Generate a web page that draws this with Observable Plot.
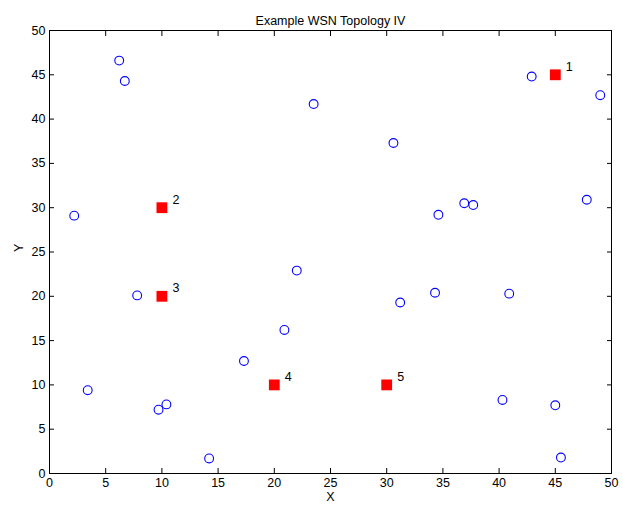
<!DOCTYPE html>
<html>
<head>
<meta charset="utf-8">
<script src="https://cdn.jsdelivr.net/npm/d3@7"></script>
<script src="https://cdn.jsdelivr.net/npm/@observablehq/plot@0.6"></script>
<style>
  html, body { margin: 0; padding: 0; background: #fff; }
  svg { display: block; }
</style>
</head>
<body>
<div id="chart"></div>
<script>
// Sensor nodes (blue circles)
const sensorX = [6.2, 6.7, 2.2, 23.5, 30.6, 34.6, 36.9, 37.7, 42.9, 49.0, 47.8, 7.8, 22.0, 20.9, 17.3, 3.4, 9.7, 10.4, 14.2, 31.2, 34.3, 40.9, 40.3, 45.0, 45.5];
const sensorY = [46.6, 44.3, 29.1, 41.7, 37.3, 29.2, 30.5, 30.3, 44.8, 42.7, 30.9, 20.1, 22.9, 16.2, 12.7, 9.4, 7.2, 7.8, 1.7, 19.3, 20.4, 20.3, 8.3, 7.7, 1.8];
// Anchor nodes (red squares)
const anchorX = [45, 10, 10, 20, 30];
const anchorY = [45, 30, 20, 10, 10];
const anchorLabel = ["1", "2", "3", "4", "5"];
const xTicks = [0, 5, 10, 15, 20, 25, 30, 35, 40, 45, 50];
const yTicks = [0, 5, 10, 15, 20, 25, 30, 35, 40, 45, 50];
const title = "Example WSN Topology IV";

const sensors = sensorX.map((x, i) => ({x, y: sensorY[i]}));
const anchors = anchorX.map((x, i) => ({x, y: anchorY[i], label: anchorLabel[i]}));

const font = "'Liberation Sans', Arial, Helvetica, sans-serif";

const chart = Plot.plot({
  width: 623,
  height: 506,
  marginLeft: 49,
  marginRight: 12,
  marginTop: 30,
  marginBottom: 33,
  style: {fontFamily: font, fontSize: "12.5px", color: "#000", background: "#fff"},
  x: {domain: [0, 50]},
  y: {domain: [0, 50]},
  marks: [
    Plot.frame({stroke: "#000", strokeWidth: 1}),
    // inward ticks on all four sides
    Plot.axisX(xTicks, {anchor: "bottom", tickSize: -5, text: null, label: null, stroke: "#000"}),
    Plot.axisX(xTicks, {anchor: "top", tickSize: -5, text: null, label: null, stroke: "#000"}),
    Plot.axisY(yTicks, {anchor: "left", tickSize: -5, text: null, label: null, stroke: "#000"}),
    Plot.axisY(yTicks, {anchor: "right", tickSize: -5, text: null, label: null, stroke: "#000"}),
    // tick labels
    Plot.axisX(xTicks, {anchor: "bottom", tickSize: 0, tickPadding: 5, label: null, fill: "#000", fontSize: 12.5}),
    Plot.axisY(yTicks, {anchor: "left", tickSize: 0, tickPadding: 4, label: null, fill: "#000", fontSize: 12.5}),
    // axis titles
    Plot.text(["X"], {frameAnchor: "bottom", dy: 27, fill: "#000", fontSize: 12.5}),
    Plot.text(["Y"], {frameAnchor: "left", dx: -31, rotate: -90, fill: "#000", fontSize: 12.5}),
    Plot.text([title], {frameAnchor: "top", dy: -14, fill: "#000", fontSize: 12.5}),
    // data
    Plot.dot(sensors, {x: "x", y: "y", r: 4.4, stroke: "#0000ff", strokeWidth: 1.1, fill: "none"}),
    Plot.dot(anchors, {x: "x", y: "y", symbol: "square", r: 6.1, fill: "#ff0000", stroke: "none"}),
    Plot.text(anchors, {x: "x", y: "y", text: "label", dx: 14, dy: -8, fill: "#000", fontSize: 12.5})
  ]
});
document.getElementById("chart").appendChild(chart);
</script>
</body>
</html>
